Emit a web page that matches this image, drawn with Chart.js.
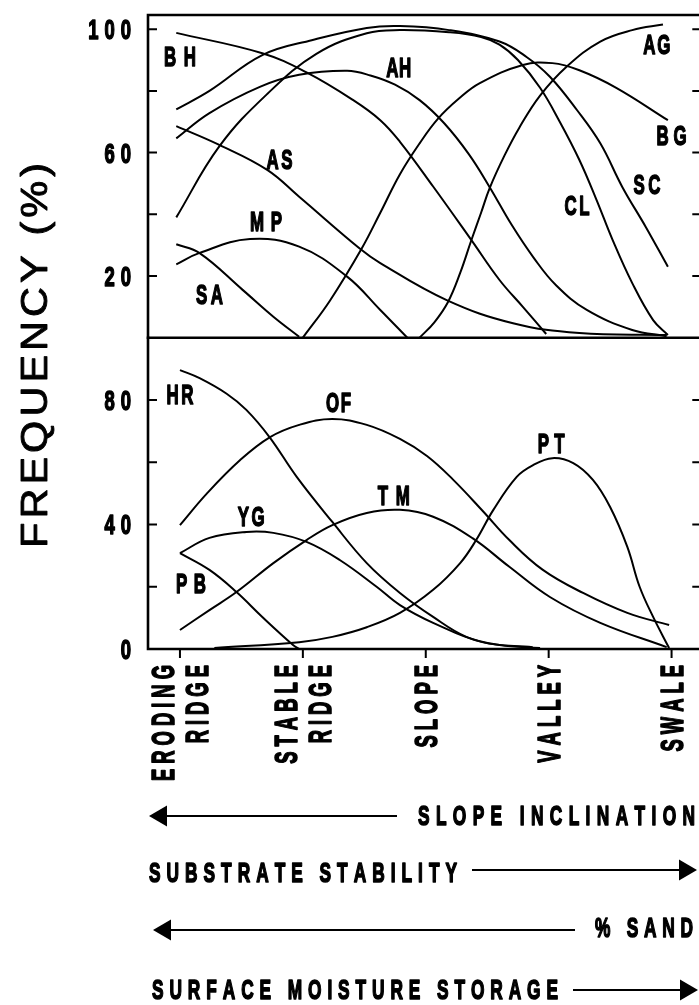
<!DOCTYPE html>
<html><head><meta charset="utf-8">
<script src="https://cdn.jsdelivr.net/npm/chart.js@4.4.1/dist/chart.umd.min.js"></script>
<style>
html,body{margin:0;padding:0;background:#fff;overflow:hidden;width:699px;height:1005px;}
#wrap{position:relative;width:710px;height:1005px;}
canvas{position:absolute;left:0;top:0;}
</style></head><body>
<div id="wrap"><canvas id="cTop" width="710" height="1005"></canvas><canvas id="cBot" width="710" height="1005"></canvas></div>
<script>
// ---------- DATA ----------
const xCategories = [['ERODING','RIDGE'],['STABLE','RIDGE'],['SLOPE'],['VALLEY'],['SWALE']];
const topTickValues = [20,40,60,80,100];
const topTickLabels = [100,60,20];
const botTickValues = [20,40,60,80];
const botTickLabels = [80,40,0];

// upper panel species  [position on gradient, frequency %]
const BH = [[-0.03,98.8],[0.67,92.2],[1.03,86],[1.41,77],[1.63,70.5],[1.79,63.5],[2.06,49],[2.37,31.7],[2.60,18.7],[2.79,10],[2.98,1.2]];
const AH = [[-0.03,64.6],[0.24,72.8],[0.65,81.3],[0.97,85.2],[1.36,86.5],[1.55,85],[1.75,82],[1.95,77],[2.15,69.5],[2.35,59.5],[2.52,48.8],[2.70,36.5],[2.88,25.8],[3.06,17],[3.31,9],[3.68,2.5],[3.96,0.5]];
const SC = [[-0.03,74],[0.24,80],[0.67,91.6],[1.08,96.5],[1.52,100.4],[1.79,101],[2.19,99.7],[2.60,96],[2.82,91],[3.01,84.6],[3.23,73.8],[3.42,63],[3.60,48.8],[3.79,35.9],[3.97,23]];
const CL = [[-0.03,39],[0.32,62],[0.71,79],[1.11,92],[1.52,98.7],[1.79,99.7],[2.19,99],[2.45,97.5],[2.60,95],[2.75,90],[2.93,81],[3.09,70],[3.25,57.6],[3.39,44.6],[3.52,31.7],[3.68,17.7],[3.85,5.7],[3.97,0.9]];
const BG = [[1.00,0],[1.22,12],[1.48,29],[1.63,40.5],[1.79,53],[1.95,63],[2.10,71],[2.27,77.5],[2.44,82.5],[2.79,88.4],[3.03,89],[3.25,86.7],[3.55,81],[3.97,70.5]];
const AG = [[1.95,0],[2.07,5],[2.18,11.5],[2.28,21],[2.37,31.5],[2.45,40.5],[2.52,48.5],[2.64,59],[2.76,68],[2.93,78.5],[3.15,88],[3.42,96],[3.68,99.7],[3.93,101.5]];
const AS = [[-0.03,68.6],[0.32,62.5],[0.71,54.4],[0.97,45.7],[1.46,29],[1.63,24.2],[2.17,12.2],[2.71,4.7],[3.25,1.5],[3.96,0.9]];
const MP = [[-0.03,23.8],[0.16,27.5],[0.57,32],[0.97,29.5],[1.36,19.8],[1.63,9],[1.85,0]];
const SA = [[-0.03,30.3],[0.16,27.4],[0.51,15.5],[0.76,6.8],[0.97,0.3]];

// lower panel species
const HR = [[0,89.6],[0.16,87],[0.38,82],[0.54,76.8],[0.73,68],[0.95,55.3],[1.24,40.8],[1.52,27.6],[1.79,18],[2.06,10.3],[2.33,3.9],[2.60,1.3],[2.93,0.3]];
const OF = [[0,39.8],[0.22,50],[0.49,60.7],[0.73,68],[0.97,72],[1.24,73.9],[1.52,72],[1.79,67.5],[2.01,62],[2.22,54.5],[2.46,44.5],[2.68,35],[2.95,25.5],[3.28,18],[3.64,11.6],[3.98,7.7]];
const TM = [[0,6.1],[0.24,12.5],[0.46,18.3],[0.76,27.6],[1.03,35],[1.24,39.8],[1.52,43.7],[1.79,44.7],[2.06,42.5],[2.38,35.6],[2.68,26.4],[3.01,16.7],[3.42,8.4],[3.96,0.6]];
const YG = [[0,30.8],[0.24,35.7],[0.54,37.6],[0.76,37.3],[1.03,34.4],[1.30,28.6],[1.60,20],[1.79,14.1],[2.06,8.4],[2.46,2.2],[2.87,0.6]];
const PB = [[0,30.8],[0.24,25.4],[0.46,18.3],[0.67,10.3],[0.92,1.3],[0.97,0]];
const PT = [[0.28,0.3],[0.97,2.2],[1.24,3.9],[1.52,7],[1.79,11.6],[2.06,19],[2.28,27.6],[2.41,35],[2.55,44.7],[2.74,55.3],[2.87,59],[3.03,61.3],[3.20,59.7],[3.36,54.3],[3.50,45.6],[3.64,32.8],[3.74,20],[3.85,10.3],[3.98,0.3]];

const topSeries = {BH, AH, SC, CL, BG, AG, AS, MP, SA};
const botSeries = {HR, OF, TM, YG, PB, PT};

// curve label anchors [text, gradient position, frequency]
const topLabels = [['BH',0.00,91.2],['AH',1.78,87.6],['AG',3.88,95.2],['BG',4.00,65.7],['AS',0.81,57.9],['CL',3.23,42.9],['SC',3.80,49.8],['MP',0.70,37.9],['SA',0.24,14.2]];
const botLabels = [['HR',0.00,81.9],['OF',1.29,79.2],['YG',0.58,42.5],['PB',0.09,21.1],['TM',1.74,49.5],['PT',3.02,66.1]];
const labelWidth = {BH:32,AH:25,AG:27,BG:30,AS:26,CL:25,SC:27,MP:32,SA:27,HR:27,OF:25,YG:27,PB:30,TM:32,PT:27};

const gradientRows = [
  {text:'SLOPE INCLINATION', x0:418, x1:695, y:815, from:397, tip:149, ay:816},
  {text:'SUBSTRATE STABILITY', x0:149, x1:457, y:872, from:472, tip:697, ay:870},
  {text:'% SAND', x0:595, x1:693, y:927, from:575, tip:153, ay:930},
  {text:'SURFACE MOISTURE STORAGE', x0:152, x1:558, y:989, from:573, tip:698, ay:990}
];
const yTitle = 'FREQUENCY (%)';

// ---------- helpers ----------
const FAM = '"Liberation Sans", Arial, sans-serif';
function setFont(ctx, capH, weight){ ctx.font = weight + ' ' + (capH/0.716).toFixed(2) + 'px ' + FAM; }
function naturalWidth(ctx, text, capH, sx, weight){
  setFont(ctx, capH, weight);
  return [...text].reduce((s,c)=>s + ctx.measureText(c).width*sx, 0);
}
function drawSpaced(ctx, text, x0, yc, capH, sx, gap, weight, heavy){
  setFont(ctx, capH, weight);
  ctx.textAlign='left'; ctx.textBaseline='alphabetic';
  ctx.fillStyle='#000'; ctx.strokeStyle='#000'; ctx.lineWidth=heavy||0; ctx.lineJoin='round';
  let x = x0;
  for (const c of [...text]) {
    const w = ctx.measureText(c).width*sx;
    ctx.save(); ctx.translate(x, yc + capH/2); ctx.scale(sx,1);
    ctx.fillText(c,0,0); if (heavy) ctx.strokeText(c,0,0);
    ctx.restore();
    x += w + gap;
  }
}
function spacedWidth(ctx, text, capH, sx, gap, weight){
  return naturalWidth(ctx, text, capH, sx, weight) + gap*([...text].length-1);
}
function drawFit(ctx, text, x0, x1, yc, capH, sx, weight, heavy){
  const n = [...text].length;
  const nat = naturalWidth(ctx, text, capH, sx, weight);
  const gap = n>1 ? ((x1-x0)-nat)/(n-1) : 0;
  const start = n>1 ? x0 : (x0+x1)/2 - nat/2;
  drawSpaced(ctx, text, start, yc, capH, sx, gap, weight, heavy);
}
function arrow(ctx, from, tip, y){
  const dir = tip > from ? 1 : -1;
  ctx.save(); ctx.strokeStyle='#000'; ctx.fillStyle='#000'; ctx.lineWidth=1.8;
  ctx.beginPath(); ctx.moveTo(from, y); ctx.lineTo(tip - dir*14, y); ctx.stroke();
  ctx.beginPath(); ctx.moveTo(tip, y); ctx.lineTo(tip - dir*18, y-10.5); ctx.lineTo(tip - dir*18, y+10.5); ctx.closePath(); ctx.fill();
  ctx.restore();
}
function drawCurveLabels(chart, labels){
  const {ctx, scales:{x,y}} = chart;
  labels.forEach(([t,lx,ly])=>{
    const cx = x.getPixelForValue(lx), cy = y.getPixelForValue(ly), w = labelWidth[t];
    drawFit(ctx, t, cx-w/2, cx+w/2, cy, 19.5, 0.62, 'bold', 1.5);
  });
}
function drawTickLabels(chart, vals){
  const {ctx, scales:{y}} = chart;
  vals.forEach(v=>{
    const s = String(v), w = spacedWidth(ctx, s, 20, 0.66, 6, 'bold');
    drawSpaced(ctx, s, 131 - w, y.getPixelForValue(v), 20, 0.66, 6, 'bold', 1.6);
  });
}
function sideTicks(chart, vals){
  const {ctx, chartArea:a, scales:{y}} = chart;
  ctx.beginPath();
  vals.forEach(v=>{
    const py = y.getPixelForValue(v);
    ctx.moveTo(a.left, py); ctx.lineTo(a.left+8, py);
    ctx.moveTo(a.right, py); ctx.lineTo(a.right-9, py);
  });
  ctx.stroke();
}

const topPlugin = {id:'topDeco', afterDatasetsDraw(chart){
  const {ctx, chartArea:a} = chart;
  ctx.save(); ctx.strokeStyle='#000'; ctx.lineWidth=2.6; ctx.lineCap='square';
  ctx.beginPath();
  ctx.moveTo(a.left, a.bottom); ctx.lineTo(a.left, a.top); ctx.lineTo(a.right, a.top); ctx.lineTo(a.right, a.bottom);
  ctx.moveTo(a.left, a.bottom); ctx.lineTo(a.right, a.bottom);
  ctx.stroke();
  ctx.lineWidth=2; sideTicks(chart, topTickValues);
  ctx.restore();
  drawTickLabels(chart, topTickLabels);
  drawCurveLabels(chart, topLabels);
}};

const botPlugin = {id:'botDeco', afterDatasetsDraw(chart){
  const {ctx, chartArea:a, scales:{x}} = chart;
  ctx.save(); ctx.strokeStyle='#000'; ctx.lineWidth=2.6; ctx.lineCap='square';
  ctx.beginPath();
  ctx.moveTo(a.left, a.top); ctx.lineTo(a.left, a.bottom); ctx.lineTo(a.right, a.bottom); ctx.lineTo(a.right, a.top);
  ctx.stroke();
  ctx.lineWidth=2; sideTicks(chart, botTickValues);
  ctx.beginPath();
  xCategories.forEach((c,i)=>{ const px = x.getPixelForValue(i); ctx.moveTo(px, a.bottom); ctx.lineTo(px, a.bottom+8); });
  ctx.stroke();
  ctx.restore();
  drawTickLabels(chart, botTickLabels);
  drawCurveLabels(chart, botLabels);
  // category labels (rotated)
  xCategories.forEach((lines,i)=>{
    const px = x.getPixelForValue(i);
    lines.forEach((t,j)=>{
      const off = lines.length===2 ? (j===0 ? -17 : 17) : 0;
      const w = spacedWidth(ctx, t, 22, 0.6, 5, 'bold');
      ctx.save(); ctx.translate(px+off, a.bottom+16); ctx.rotate(-Math.PI/2);
      drawSpaced(ctx, t, -w, 0, 22, 0.6, 5, 'bold', 1.6);
      ctx.restore();
    });
  });
  // y title
  ctx.save(); ctx.translate(33.5, 548); ctx.rotate(-Math.PI/2);
  drawFit(ctx, yTitle, 0, 385, 0, 27, 1.1, 'normal', 0.9);
  ctx.restore();
  // gradient arrows
  gradientRows.forEach(r=>{
    drawFit(ctx, r.text, r.x0, r.x1, r.y, 20, 0.62, 'bold', 1.6);
    arrow(ctx, r.from, r.tip, r.ay);
  });
}};

function makeDatasets(obj){
  return Object.entries(obj).map(([k,arr])=>({label:k, data: arr.map(([px,py])=>({x:px,y:py}))}));
}
function baseOptions(pad, ymax){
  return {
    responsive:false, animation:false, devicePixelRatio:1, events:[],
    layout:{padding:pad},
    scales:{ x:{type:'linear', min:-0.26, max:4.25, display:false}, y:{type:'linear', min:0, max:ymax, display:false} },
    plugins:{legend:{display:false}, tooltip:{enabled:false}},
    elements:{ point:{radius:0}, line:{borderColor:'#000', borderWidth:2, tension:0.4, fill:false} }
  };
}
new Chart(document.getElementById('cTop'), {
  type:'line', data:{datasets: makeDatasets(topSeries)},
  options: baseOptions({left:148, right:7.7, top:15, bottom:1005-337.7}, 104.6),
  plugins:[topPlugin]
});
new Chart(document.getElementById('cBot'), {
  type:'line', data:{datasets: makeDatasets(botSeries)},
  options: baseOptions({left:148, right:7.7, top:337.7, bottom:356}, 100),
  plugins:[botPlugin]
});
</script></body></html>
